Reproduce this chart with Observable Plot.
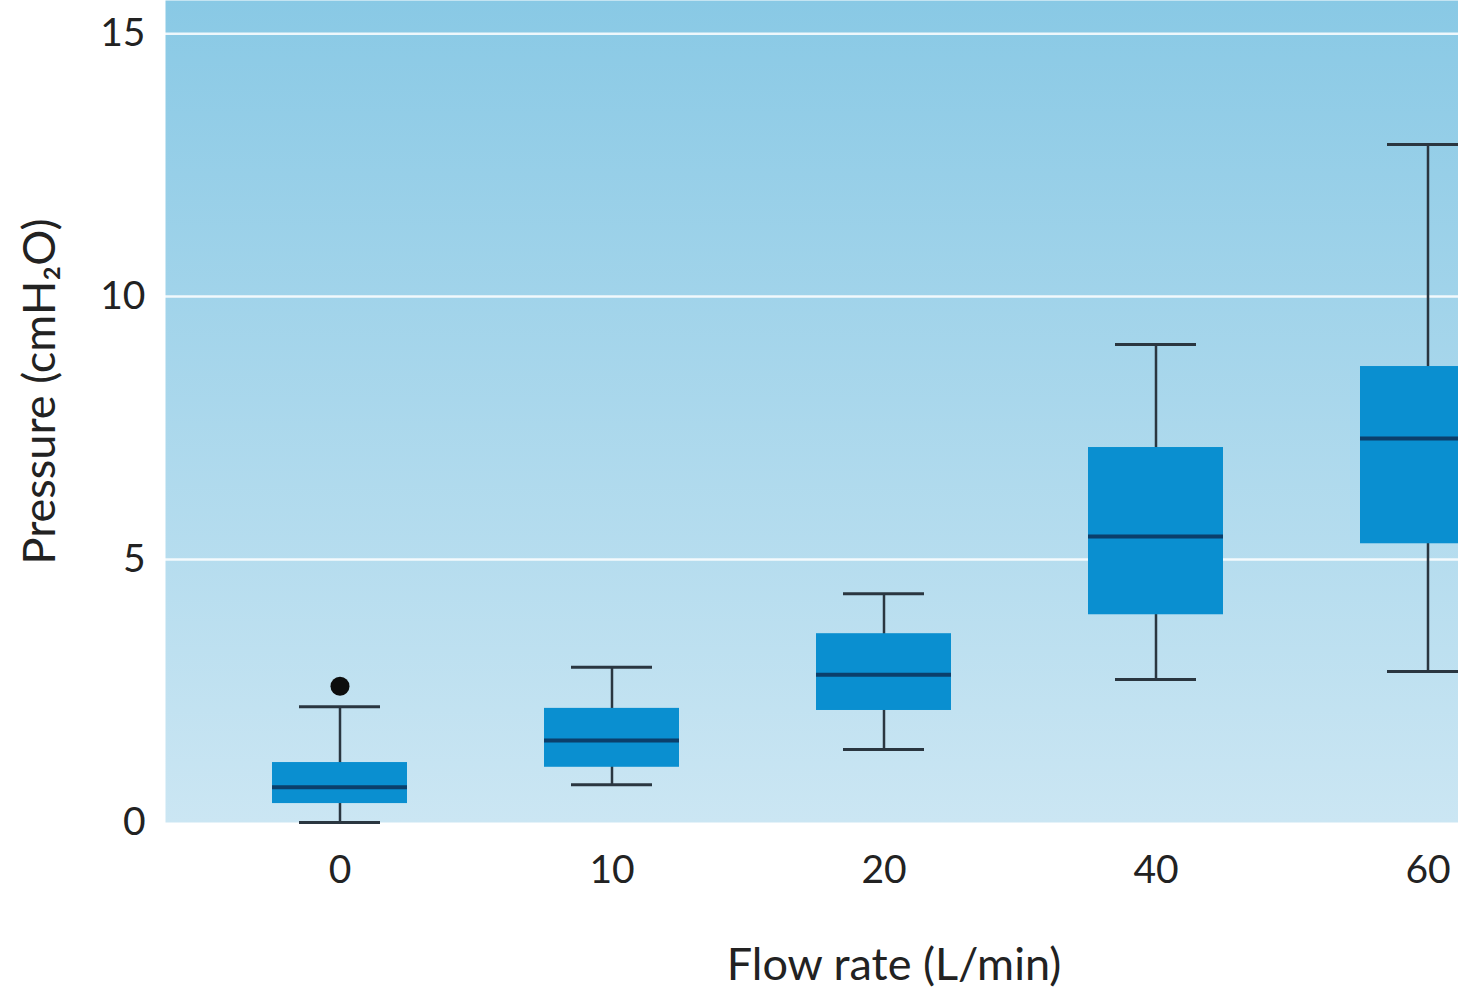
<!DOCTYPE html>
<html>
<head>
<meta charset="utf-8">
<script src="https://cdn.jsdelivr.net/npm/d3@7"></script>
<script src="https://cdn.jsdelivr.net/npm/@observablehq/plot@0.6"></script>
<style>
  html, body { margin: 0; padding: 0; background: #fff; overflow: hidden; }
  #chart { width: 1458px; height: 993px; overflow: hidden; }
  #chart svg { display: block; }
</style>
</head>
<body>
<div id="chart"></div>
<script>
// Data
const flowRates = ["0", "10", "20", "40", "60"];
const whiskerLow = [0.0, 0.72, 1.39, 2.72, 2.87];
const quartile1 = [0.36, 1.05, 2.13, 3.95, 5.30];
const medians = [0.67, 1.56, 2.81, 5.44, 7.30];
const quartile3 = [1.14, 2.17, 3.59, 7.13, 8.67];
const whiskerHigh = [2.20, 2.95, 4.35, 9.09, 12.89];
const outlierFlow = ["0"];
const outlierValue = [2.59];
const yTicks = [0, 5, 10, 15];
const gridValues = [5, 10, 15];

const boxes = flowRates.map((f, i) => ({
  flow: f, lo: whiskerLow[i], q1: quartile1[i], med: medians[i], q3: quartile3[i], hi: whiskerHigh[i]
}));
const outliers = outlierFlow.map((f, i) => ({flow: f, value: outlierValue[i]}));

const font = "Lato, 'Open Sans', sans-serif";

const chart = Plot.plot({
  width: 1602,
  height: 993,
  marginTop: 0,
  marginLeft: 165,
  marginRight: 0,
  marginBottom: 171,
  style: {fontFamily: font, fontSize: "39px", color: "#222", background: "transparent", maxWidth: "none"},
  x: {domain: flowRates, paddingInner: 0.505, paddingOuter: 0.385, label: null},
  y: {domain: [0, 15.63], label: null},
  marks: [
    Plot.frame({fill: "url(#bgGrad)", stroke: "none"}),
    Plot.ruleY(gridValues, {stroke: "#ffffff", strokeWidth: 2.5, strokeOpacity: 0.85}),
    Plot.axisY({ticks: yTicks, tickSize: 0, tickPadding: 20, fontSize: 39, label: null}),
    Plot.axisX({tickSize: 0, tickPadding: 33, fontSize: 39, label: null}),
    Plot.ruleX(boxes, {x: "flow", y1: "lo", y2: "hi", stroke: "#2a3640", strokeWidth: 2.5}),
    Plot.tickY(boxes, {x: "flow", y: "lo", stroke: "#2a3640", strokeWidth: 3, insetLeft: 27, insetRight: 27}),
    Plot.tickY(boxes, {x: "flow", y: "hi", stroke: "#2a3640", strokeWidth: 3, insetLeft: 27, insetRight: 27}),
    Plot.barY(boxes, {x: "flow", y1: "q1", y2: "q3", fill: "#0a8fd0"}),
    Plot.tickY(boxes, {x: "flow", y: "med", stroke: "#0b3f6b", strokeWidth: 4}),
    Plot.dot(outliers, {x: "flow", y: "value", r: 9.5, fill: "#0d0d0d", stroke: "none"}),
    Plot.text(["Pressure (cmH₂O)"], {frameAnchor: "left", textAnchor: "middle", rotate: -90, dx: -125, dy: -20, fontSize: 45, fill: "#222"}),
    Plot.text(["Flow rate (L/min)"], {frameAnchor: "bottom", textAnchor: "middle", dx: 10, dy: 157, fontSize: 45, fill: "#222"})
  ]
});

chart.style.maxWidth = "none";
chart.style.width = "1602px";
chart.style.height = "993px";

// gradient background for the plotting area
const ns = "http://www.w3.org/2000/svg";
const defs = document.createElementNS(ns, "defs");
defs.innerHTML = `<linearGradient id="bgGrad" x1="0" y1="0" x2="0" y2="1">
  <stop offset="0%" stop-color="#89c9e5"/>
  <stop offset="100%" stop-color="#cbe6f3"/>
</linearGradient>`;
chart.insertBefore(defs, chart.firstChild);

document.getElementById("chart").appendChild(chart);
</script>
</body>
</html>
